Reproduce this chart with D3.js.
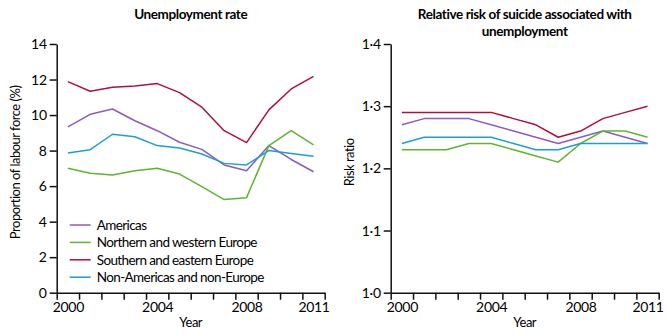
<!DOCTYPE html>
<html>
<head>
<meta charset="utf-8">
<script src="https://cdn.jsdelivr.net/npm/d3@7"></script>
<style>
  body { margin: 0; background: #fff; }
  svg text { font-family: Lato, "Open Sans", sans-serif; fill: #000; }
  .axis path, .axis line { stroke: #111; stroke-width: 1.5; }
  .axis text { font-size: 14px; letter-spacing: -0.3px; }
  .title { font-size: 13.5px; font-weight: bold; letter-spacing: -0.4px; }
  .axis_label { font-size: 13px; letter-spacing: -0.5px; }
  .legend text { font-size: 13.5px; letter-spacing: -0.6px; }
</style>
</head>
<body>
<div id="chart_area"></div>
<script>
var years = [2000, 2001, 2002, 2003, 2004, 2005, 2006, 2007, 2008, 2009, 2010, 2011];
var year_labels = [2000, 2004, 2008, 2011];
var regions = ["Americas", "Northern and western Europe", "Southern and eastern Europe", "Non-Americas and non-Europe"];
var region_colors = ["#8b5cbd", "#5db531", "#b0103d", "#1d9fd2"];

// unemployment, % of labour force
var unemp_americas = [9.33, 10.04, 10.34, 9.68, 9.12, 8.47, 8.07, 7.19, 6.87, 8.28, 7.5, 6.81];
var unemp_nw_europe = [7.0, 6.72, 6.63, 6.87, 7.0, 6.68, 5.97, 5.24, 5.35, 8.28, 9.12, 8.32];
var unemp_se_europe = [11.88, 11.34, 11.56, 11.64, 11.77, 11.26, 10.44, 9.12, 8.45, 10.29, 11.47, 12.18];
var unemp_other = [7.87, 8.05, 8.92, 8.78, 8.28, 8.15, 7.81, 7.28, 7.19, 8.0, 7.83, 7.68];

// relative risk of suicide
var rr_americas = [1.27, 1.28, 1.28, 1.28, 1.27, 1.26, 1.25, 1.24, 1.25, 1.26, 1.25, 1.24];
var rr_nw_europe = [1.23, 1.23, 1.23, 1.24, 1.24, 1.23, 1.22, 1.21, 1.24, 1.26, 1.26, 1.25];
var rr_se_europe = [1.29, 1.29, 1.29, 1.29, 1.29, 1.28, 1.27, 1.25, 1.26, 1.28, 1.29, 1.30];
var rr_other = [1.24, 1.25, 1.25, 1.25, 1.25, 1.24, 1.23, 1.23, 1.24, 1.24, 1.24, 1.24];

var unemp_ticks = [0, 2, 4, 6, 8, 10, 12, 14];
var rr_ticks = [1.0, 1.1, 1.2, 1.3, 1.4];

var frame_width = 668;
var frame_height = 335;
var plot_top = 44;
var plot_bottom = 292.7;
var plot_width = 268;

var frame = d3.select("#chart_area").append("svg")
    .attr("width", frame_width)
    .attr("height", frame_height);

var draw_panel = function(left, series, yDomain, yTicks, yFormat, yLabel, titleLines){
    var canvas = frame.append("g")
        .attr("transform", "translate(" + left + ",0)");

    // years sit in the middle of one-year bands, ticks mark the band edges
    var xScale = d3.scaleLinear()
        .domain([years[0] - 0.5, years[years.length - 1] + 0.5])
        .range([0, plot_width]);
    var yScale = d3.scaleLinear().domain(yDomain).range([plot_bottom, plot_top]);

    var edges = years.map(function(y){ return y - 0.5; }).concat([years[years.length - 1] + 0.5]);

    canvas.append("g")
        .attr("class", "x axis")
        .attr("transform", "translate(0," + plot_bottom + ")")
        .call(d3.axisBottom(xScale).tickValues(edges).tickSize(7).tickSizeOuter(0).tickFormat(""));

    canvas.append("g")
        .attr("class", "x axis")
        .attr("transform", "translate(0," + plot_bottom + ")")
        .call(d3.axisBottom(xScale).tickValues(year_labels).tickSize(0).tickPadding(9).tickFormat(d3.format("d")))
        .select(".domain").remove();

    canvas.append("g")
        .attr("class", "y axis")
        .call(d3.axisLeft(yScale).tickValues(yTicks).tickSize(7).tickSizeOuter(0).tickPadding(3).tickFormat(yFormat));

    var line = d3.line()
        .x(function(d, i){ return xScale(years[i]); })
        .y(function(d){ return yScale(d); });

    canvas.selectAll("path.series")
        .data(series)
        .enter().append("path")
        .attr("class", "series")
        .attr("d", function(d){ return line(d); })
        .style("fill", "none")
        .style("stroke", function(d, i){ return region_colors[i]; })
        .style("stroke-width", 1.5)
        .style("stroke-linejoin", "round");

    canvas.append("text")
        .attr("class", "axis_label")
        .attr("x", plot_width / 2)
        .attr("y", 327)
        .attr("text-anchor", "middle")
        .text("Year");

    canvas.append("text")
        .attr("class", "axis_label")
        .attr("transform", "translate(" + (-37) + "," + ((plot_top + plot_bottom) / 2 - 6) + ") rotate(-90)")
        .attr("text-anchor", "middle")
        .text(yLabel);

    canvas.selectAll("text.title")
        .data(titleLines)
        .enter().append("text")
        .attr("class", "title")
        .attr("x", plot_width / 2)
        .attr("y", function(d, i){ return 19 + i * 17; })
        .attr("text-anchor", "middle")
        .text(function(d){ return d; });

    return canvas;
};

var left_panel = draw_panel(56.7,
    [unemp_americas, unemp_nw_europe, unemp_se_europe, unemp_other],
    [0, 14], unemp_ticks, d3.format("d"),
    "Proportion of labour force (%)", ["Unemployment rate"]);

draw_panel(390.7,
    [rr_americas, rr_nw_europe, rr_se_europe, rr_other],
    [1.0, 1.4], rr_ticks, function(d){ return d3.format(".1f")(d).replace(".", "\u00b7"); },
    "Risk ratio", ["Relative risk of suicide associated with", "unemployment"]);

// legend in the lower left of the unemployment panel
var legend = left_panel.append("g")
    .attr("class", "legend")
    .attr("transform", "translate(13,225)");

var rows = legend.selectAll("g")
    .data(regions)
    .enter().append("g")
    .attr("transform", function(d, i){ return "translate(0," + (i * 17.4) + ")"; });

rows.append("line")
    .attr("x1", 0).attr("x2", 21)
    .style("stroke", function(d, i){ return region_colors[i]; })
    .style("stroke-width", 1.5);

rows.append("text")
    .attr("x", 27)
    .attr("dy", "0.35em")
    .text(function(d){ return d; });
</script>
</body>
</html>
